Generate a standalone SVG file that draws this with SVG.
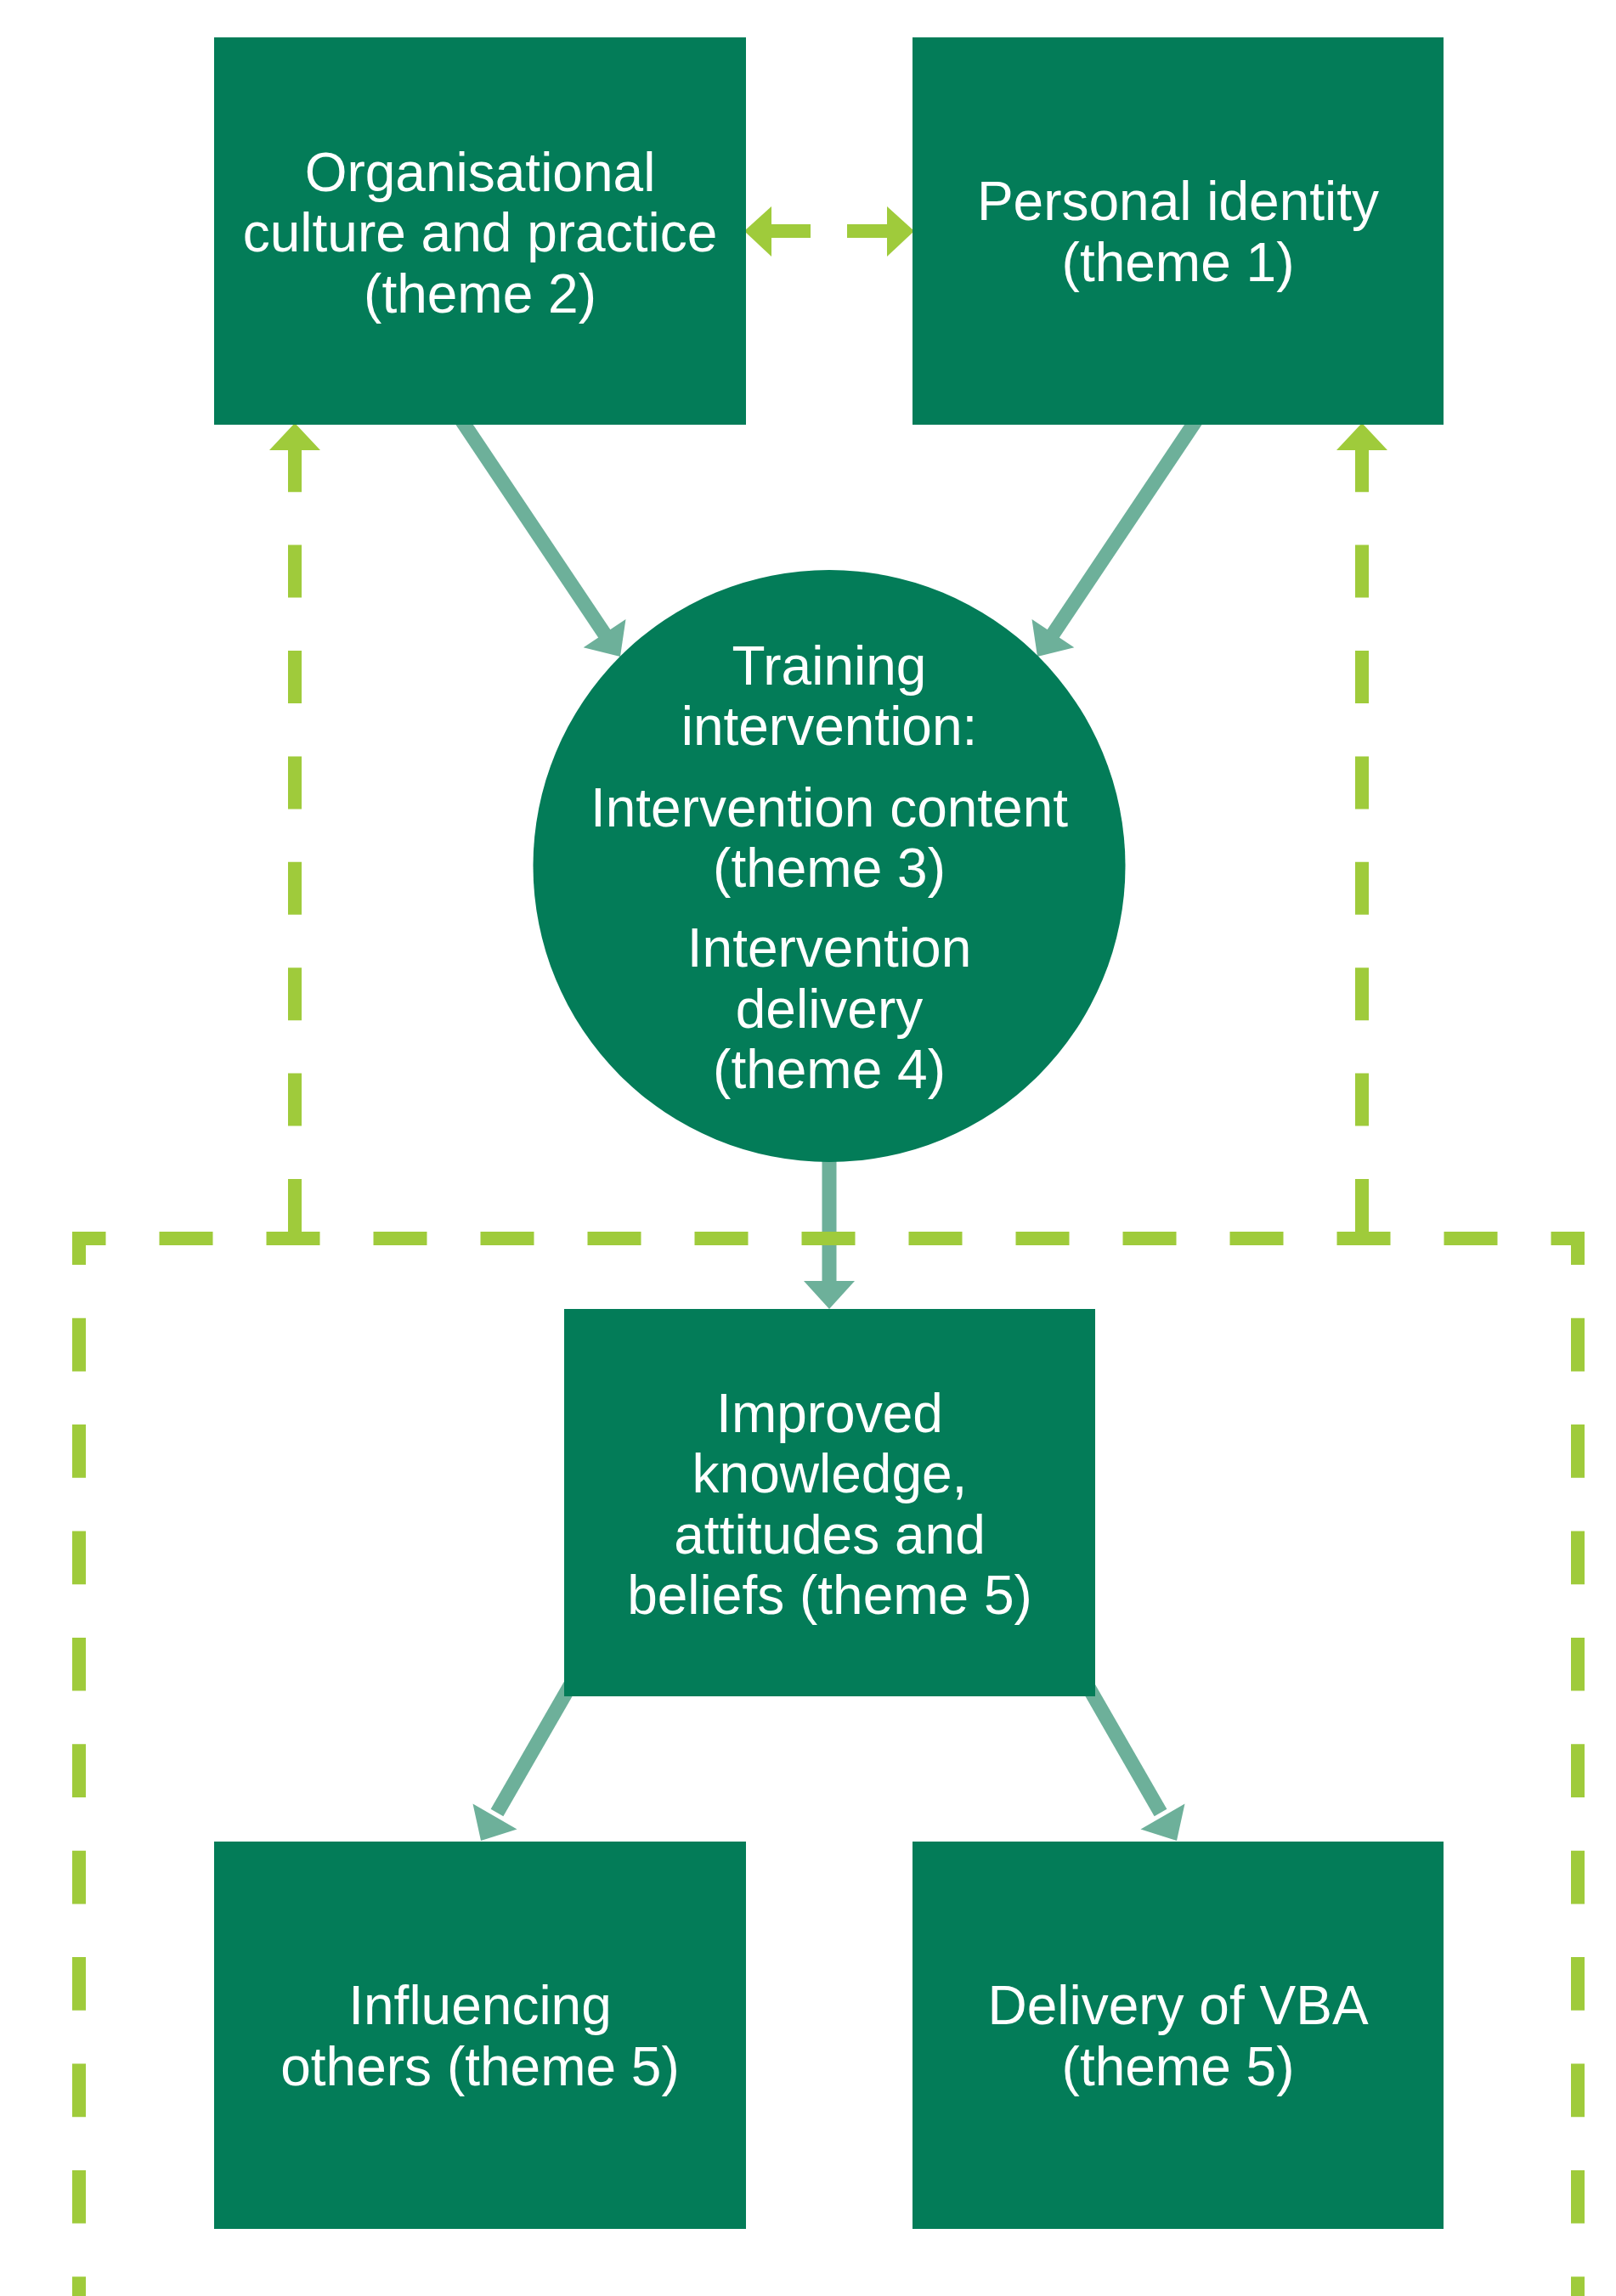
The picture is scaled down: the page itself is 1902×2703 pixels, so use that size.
<svg xmlns="http://www.w3.org/2000/svg" width="1902" height="2703" viewBox="0 0 1902 2703">
<style>
.node{fill:#037C58}
.lbl{font-family:"Liberation Sans",Arial,sans-serif;font-size:64px;fill:#FFFFFF;text-anchor:middle}
.teal{stroke:#6DB09A;stroke-width:17;fill:none}
.tealhead{fill:#6DB09A}
.lime{stroke:#9FCB3B;stroke-width:16;fill:none}
.limehead{fill:#9FCB3B}
</style>
<rect x="0" y="0" width="1902" height="2703" fill="#FFFFFF"/>
<g id="connectors">
  <!-- solid teal arrows -->
  <line class="teal" x1="540" y1="490" x2="714" y2="750"/>
  <polygon class="tealhead" points="730,773 686.7,762.3 736.5,728.9"/>
  <line class="teal" x1="1411" y1="490" x2="1237" y2="750"/>
  <polygon class="tealhead" points="1221,773 1264.3,762.3 1214.5,728.9"/>
  <line class="teal" x1="976" y1="1355" x2="976" y2="1512"/>
  <polygon class="tealhead" points="976,1541 946,1508 1006,1508"/>
  <line class="teal" x1="677" y1="1974" x2="585" y2="2134"/>
  <polygon class="tealhead" points="566,2167 608.5,2153.4 556.5,2123.4"/>
  <line class="teal" x1="1274" y1="1974" x2="1366" y2="2134"/>
  <polygon class="tealhead" points="1385,2167 1342.5,2153.4 1394.5,2123.4"/>
  <!-- dashed boundary -->
  <path class="lime" d="M93,1458 H1857" stroke-dasharray="63 63" stroke-dashoffset="31.5"/>
  <path class="lime" d="M93,1450 V2703" stroke-dasharray="62.7 62.7" stroke-dashoffset="23.7"/>
  <path class="lime" d="M1857,1450 V2703" stroke-dasharray="62.7 62.7" stroke-dashoffset="23.7"/>
  <!-- dashed feedback arrows -->
  <path class="lime" d="M347,1450 V528" stroke-dasharray="62 62.4"/>
  <polygon class="limehead" points="347,498 317,530 377,530"/>
  <path class="lime" d="M1603,1450 V528" stroke-dasharray="62 62.4"/>
  <polygon class="limehead" points="1603,498 1573,530 1633,530"/>
  <!-- bidirectional dashed arrow -->
  <line class="lime" x1="906" y1="272" x2="954" y2="272"/>
  <polygon class="limehead" points="876,272 908,243 908,302"/>
  <line class="lime" x1="997" y1="272" x2="1046" y2="272"/>
  <polygon class="limehead" points="1076,272 1044,243 1044,302"/>
</g>
<g id="node-org-culture">
  <rect class="node" x="252" y="44" width="626" height="456"/>
  <text class="lbl" x="565" y="225">Organisational</text>
  <text class="lbl" x="565" y="296">culture and practice</text>
  <text class="lbl" x="565" y="368">(theme 2)</text>
</g>
<g id="node-personal-identity">
  <rect class="node" x="1074" y="44" width="625" height="456"/>
  <text class="lbl" x="1386.5" y="259">Personal identity</text>
  <text class="lbl" x="1386.5" y="331">(theme 1)</text>
</g>
<g id="node-training">
  <circle class="node" cx="976" cy="1019.5" r="348.5"/>
  <text class="lbl" x="976" y="806">Training</text>
  <text class="lbl" x="976" y="877">intervention:</text>
  <text class="lbl" x="976" y="973">Intervention content</text>
  <text class="lbl" x="976" y="1044">(theme 3)</text>
  <text class="lbl" x="976" y="1138">Intervention</text>
  <text class="lbl" x="976" y="1210">delivery</text>
  <text class="lbl" x="976" y="1281">(theme 4)</text>
</g>
<g id="node-improved">
  <rect class="node" x="664" y="1541" width="625" height="456"/>
  <text class="lbl" x="976.5" y="1686">Improved</text>
  <text class="lbl" x="976.5" y="1757">knowledge,</text>
  <text class="lbl" x="976.5" y="1829">attitudes and</text>
  <text class="lbl" x="976.5" y="1900">beliefs (theme 5)</text>
</g>
<g id="node-influencing">
  <rect class="node" x="252" y="2168" width="626" height="456"/>
  <text class="lbl" x="565" y="2383">Influencing</text>
  <text class="lbl" x="565" y="2455">others (theme 5)</text>
</g>
<g id="node-delivery-vba">
  <rect class="node" x="1074" y="2168" width="625" height="456"/>
  <text class="lbl" x="1386.5" y="2383">Delivery of VBA</text>
  <text class="lbl" x="1386.5" y="2455">(theme 5)</text>
</g>
</svg>
